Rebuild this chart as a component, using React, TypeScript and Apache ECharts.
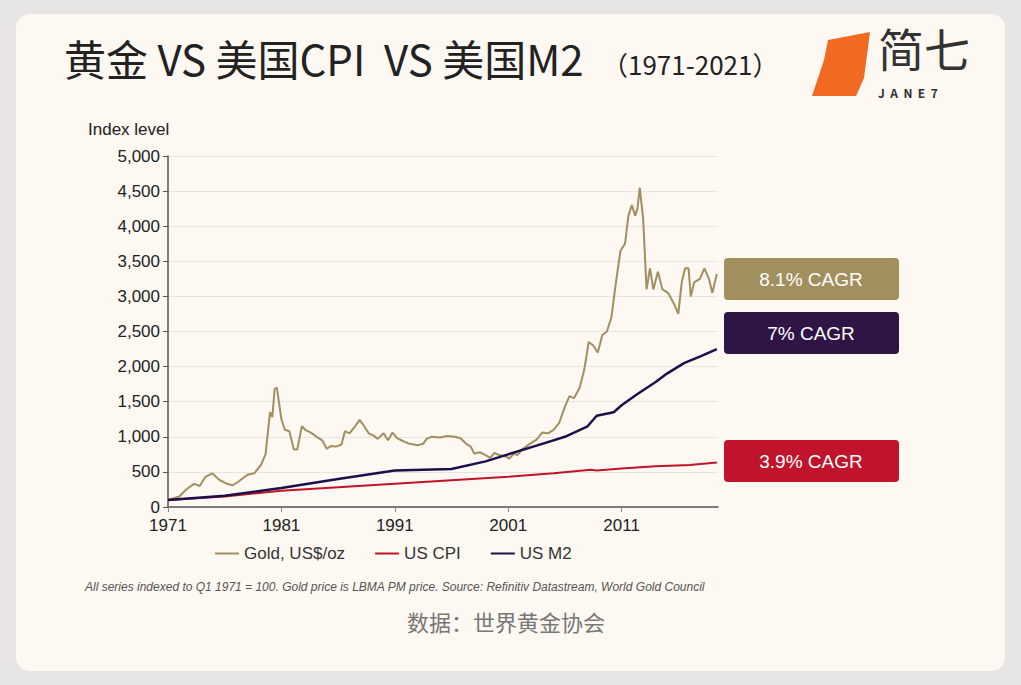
import React, { useEffect, useRef } from "react";
import * as echarts from "echarts";

// years counted from 1971
const goldPts: [number, number][] = [
  [1971, 100], [1972, 150], [1972.6, 250], [1973.3, 330], [1973.8, 300], [1974.3, 430], [1974.9, 480],
  [1975.5, 390], [1976.2, 330], [1976.7, 310], [1977.2, 360], [1978, 460], [1978.6, 480], [1979.2, 600],
  [1979.6, 750], [1980, 1350], [1980.2, 1280], [1980.4, 1680], [1980.6, 1700], [1981, 1250], [1981.3, 1100],
  [1981.7, 1080], [1982.1, 820], [1982.4, 820], [1982.8, 1150], [1983.1, 1100], [1983.6, 1060], [1984.1, 1000],
  [1984.6, 950], [1985, 830], [1985.4, 870], [1985.8, 860], [1986.3, 890], [1986.6, 1080], [1987, 1050],
  [1987.5, 1150], [1987.9, 1240], [1988.3, 1150], [1988.7, 1050], [1989.1, 1020], [1989.5, 970], [1990, 1050],
  [1990.4, 950], [1990.8, 1060], [1991.2, 980], [1991.7, 940], [1992.3, 900], [1993, 880], [1993.5, 900],
  [1993.8, 970], [1994.2, 1000], [1995, 990], [1995.6, 1010], [1996.3, 1000], [1996.8, 980], [1997.3, 900],
  [1997.7, 860], [1998, 760], [1998.5, 780], [1999, 740], [1999.4, 700], [1999.8, 770], [2000.2, 740],
  [2000.8, 720], [2001.1, 690], [2001.5, 760], [2001.8, 740], [2002.3, 830], [2002.9, 900], [2003.5, 960],
  [2004, 1060], [2004.5, 1050], [2005, 1100], [2005.5, 1200], [2006, 1430], [2006.4, 1580], [2006.8, 1550],
  [2007.3, 1700], [2007.7, 1950], [2008.1, 2350], [2008.5, 2300], [2008.9, 2200], [2009.3, 2450],
  [2009.7, 2500], [2010.1, 2700], [2010.5, 3200], [2010.9, 3650], [2011.3, 3750], [2011.6, 4150],
  [2011.9, 4300], [2012.2, 4150], [2012.4, 4250], [2012.6, 4550], [2012.9, 4100], [2013.2, 3100],
  [2013.5, 3400], [2013.8, 3100], [2014.2, 3350], [2014.6, 3100], [2015.1, 3050], [2015.6, 2900],
  [2016, 2750], [2016.3, 3200], [2016.6, 3400], [2016.9, 3400], [2017.1, 3000], [2017.4, 3200],
  [2017.9, 3250], [2018.3, 3400], [2018.7, 3250], [2019, 3050], [2019.4, 3320],
];
const m2Pts: [number, number][] = [
  [1971, 100], [1976, 160], [1981, 270], [1986, 400], [1991, 520], [1996, 540], [1999, 650], [2001, 750],
  [2004, 900], [2006, 1000], [2008, 1150], [2008.8, 1300], [2010.3, 1350], [2011, 1450], [2012.3, 1600],
  [2014, 1780], [2015, 1900], [2016.5, 2050], [2018, 2150], [2019.4, 2250],
];
const cpiPts: [number, number][] = [
  [1971, 100], [1976, 150], [1981, 230], [1986, 280], [1991, 330], [1996, 380], [2001, 430], [2005, 480],
  [2008.3, 530], [2008.8, 520], [2011, 550], [2014, 580], [2017, 600], [2019.4, 635],
];
const callouts = [
  { text: "8.1% CAGR", color: "#a28f5e", y: 258 },
  { text: "7% CAGR", color: "#2f1546", y: 312 },
  { text: "3.9% CAGR", color: "#c0142c", y: 440 },
];

const toX = (pts: [number, number][]) => pts.map(([y, v]) => [y - 1971, v]);

const App: React.FC = () => {
  const ref = useRef<HTMLDivElement | null>(null);

  useEffect(() => {
    document.body.style.margin = "0";
    if (!ref.current) return;
    const chart = echarts.init(ref.current, undefined, { renderer: "svg" });
    const font = "'Noto Sans CJK SC', 'Noto Sans', sans-serif";
    chart.setOption({
      animation: false,
      backgroundColor: "#e8e6e4",
      textStyle: { fontFamily: "Arial, 'Liberation Sans', sans-serif" },
      grid: { left: 168, right: 303, top: 156, bottom: 178 },
      xAxis: {
        type: "value", min: 0, max: 48.5, interval: 10,
        axisLine: { lineStyle: { color: "#555", width: 1.5 } },
        axisTick: { show: true, lineStyle: { color: "#888" } },
        splitLine: { show: false },
        axisLabel: { formatter: (v: number) => String(1971 + v), color: "#222", fontSize: 17, margin: 10, showMaxLabel: false },
      },
      yAxis: {
        type: "value", min: 0, max: 5000, interval: 500,
        axisLine: { show: true, lineStyle: { color: "#555", width: 1.5 } },
        axisTick: { show: true, lineStyle: { color: "#555" } },
        splitLine: { lineStyle: { color: "#e8e4df" } },
        axisLabel: { formatter: (v: number) => v.toLocaleString("en-US"), color: "#222", fontSize: 17, margin: 8 },
        name: "Index level", nameLocation: "end", nameGap: 18,
        nameTextStyle: { color: "#222", fontSize: 17, align: "left", padding: [0, 0, 0, -80] },
      },
      legend: {
        bottom: 118, left: 210, itemGap: 30, itemWidth: 24, itemHeight: 2, icon: "rect",
        textStyle: { fontSize: 17, color: "#333" },
        data: ["Gold, US$/oz", "US CPI", "US M2"],
      },
      series: [
        { name: "Gold, US$/oz", type: "line", data: toX(goldPts), symbol: "none", color: "#a28f5e", lineStyle: { width: 2 } },
        { name: "US CPI", type: "line", data: toX(cpiPts), symbol: "none", color: "#c0142c", lineStyle: { width: 2 } },
        { name: "US M2", type: "line", data: toX(m2Pts), symbol: "none", color: "#1c0f4a", lineStyle: { width: 2.5 } },
      ],
      graphic: [
        {
          type: "rect", z: -10, shape: { x: 16, y: 14, width: 989, height: 657, r: 14 },
          style: { fill: "#fdf8f2" },
        },
        {
          type: "text", left: 64, top: 36,
          style: { text: "黄金 VS 美国CPI  VS 美国M2", font: `42px ${font}`, fill: "#222" },
        },
        {
          type: "text", left: 602, top: 50,
          style: { text: "（1971-2021）", font: `26px ${font}`, fill: "#222" },
        },
        {
          type: "polygon", shape: { points: [[828, 40], [870, 32], [864, 78], [856, 96], [812, 96], [824, 60]] },
          style: { fill: "#f26a22" },
        },
        {
          type: "text", left: 878, top: 24,
          style: { text: "简七", font: `46px ${font}`, fill: "#333" },
        },
        {
          type: "text", left: 878, top: 86,
          style: { text: "J  A  N  E  7", font: `bold 12px ${font}`, fill: "#333" },
        },
        ...callouts.flatMap((c) => [
          {
            type: "rect", shape: { x: 724, y: c.y, width: 175, height: 42, r: 4 },
            style: { fill: c.color },
          },
          {
            type: "text", x: 811, y: c.y + 21,
            style: { text: c.text, fill: "#fff", font: "19px Arial, 'Liberation Sans', sans-serif", align: "center", verticalAlign: "middle" },
          },
        ]),
        {
          type: "text", left: 85, top: 581,
          style: {
            text: "All series indexed to Q1 1971 = 100. Gold price is LBMA PM price. Source: Refinitiv Datastream, World Gold Council",
            font: "italic 12px Arial, 'Liberation Sans', sans-serif", fill: "#555",
          },
        },
        {
          type: "text", left: 407, top: 610,
          style: { text: "数据：世界黄金协会", font: `22px ${font}`, fill: "#777" },
        },
      ],
    });
    return () => chart.dispose();
  }, []);

  return <div ref={ref} style={{ width: 1021, height: 685 }} />;
};

export default App;
